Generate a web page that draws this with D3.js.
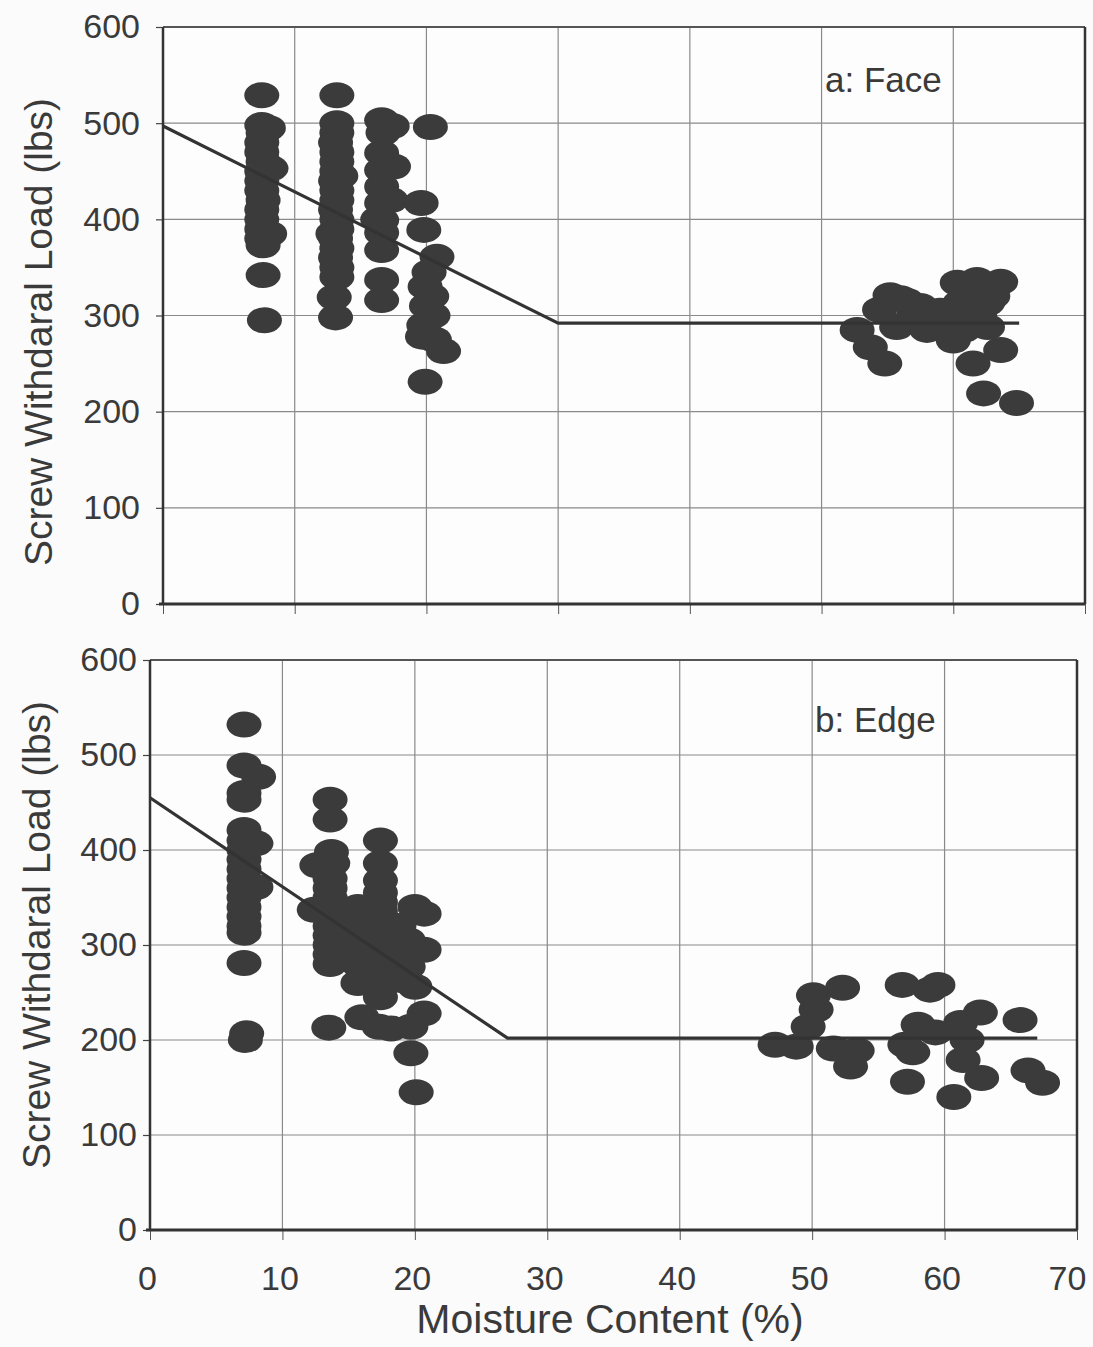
<!DOCTYPE html>
<html>
<head>
<meta charset="utf-8">
<script src="https://cdn.jsdelivr.net/npm/d3@7"></script>
<style>
  html, body { margin: 0; padding: 0; background: #fbfbfb; }
  svg { display: block; }
  text { font-family: "Liberation Sans", Arial, sans-serif; fill: #3a3a3a; }
</style>
</head>
<body>
<svg id="chart" width="1093" height="1347"></svg>
<script>
// ---------- data ----------
const xTicks = [0, 10, 20, 30, 40, 50, 60, 70];
const yTicks = [0, 100, 200, 300, 400, 500, 600];

// Face withdrawal: [moisture %, load lbs]
const facePoints = [
  // ~8% group
  [7.5,529],[7.5,498],[7.6,490],[7.5,480],[7.5,470],[7.6,460],[7.5,450],[7.5,440],[7.5,430],
  [7.6,420],[7.5,410],[7.5,400],[7.5,390],[7.5,380],[7.6,373],[7.6,342],[7.7,295],
  [8.2,453],[8.0,495],[8.1,385],
  // ~13% group
  [13.2,529],[13.2,500],[13.2,490],[13.1,480],[13.2,470],[13.2,460],[13.2,450],[13.1,440],
  [13.2,430],[13.2,420],[13.1,410],[13.2,400],[13.2,390],[13.1,380],[13.2,370],[13.1,360],
  [13.2,350],[13.2,340],[13.0,319],[13.1,298],[13.5,445],[12.9,385],
  // ~17% group
  [16.6,503],[16.7,490],[16.6,469],[16.6,451],[16.6,434],[16.6,417],[16.6,399],[16.6,386],
  [16.6,368],[16.6,337],[16.6,316],[17.4,497],[17.5,455],[17.3,420],[16.3,400],
  // ~20% group
  [20.3,496],[19.6,417],[19.8,389],[20.8,361],[20.2,345],[19.9,330],[20.4,320],[20.0,310],
  [20.5,300],[19.8,290],[19.7,278],[20.6,275],[21.3,263],[19.9,231],
  // green wood group
  [52.7,285],[53.7,267],[54.8,250],[55.2,321],[54.4,306],[55.7,288],[57.0,302],[58.0,285],
  [59.5,292],[60.0,274],[60.3,334],[61.8,337],[63.6,335],[60.5,313],[62.6,313],[62.6,288],
  [63.6,264],[61.5,250],[62.3,219],[64.8,209],[56.5,315],[58.5,300],[61.0,295],[62.0,300],
  [56.0,318],[57.5,310],[59.0,305],[61.5,320],[63.0,320],[60.8,285]
];

// Edge withdrawal: [moisture %, load lbs]
const edgePoints = [
  // ~7% group
  [7.1,532],[7.1,489],[8.2,477],[7.1,460],[7.1,453],[7.1,421],[7.1,410],[7.1,400],[7.1,390],
  [7.1,380],[7.1,370],[7.1,360],[7.1,350],[7.1,340],[7.1,330],[7.1,320],[7.1,313],
  [8.0,407],[8.0,361],[7.1,281],[7.3,207],[7.2,200],
  // ~14% group
  [13.6,453],[13.6,432],[13.7,398],[12.6,384],[13.8,386],[13.6,370],[13.6,360],[13.6,350],
  [13.6,340],[13.6,330],[13.6,320],[13.6,310],[13.6,300],[13.6,290],[13.6,280],[12.4,337],
  [13.5,213],
  // ~17% group
  [17.4,410],[17.4,386],[17.4,368],[17.4,355],[17.4,345],[17.4,335],[17.4,325],[17.4,315],
  [17.4,305],[17.4,295],[17.4,285],[17.4,275],[17.4,265],[17.4,255],[17.4,245],
  [15.7,340],[15.7,320],[15.7,300],[15.7,280],[15.7,260],[16.0,224],[17.3,214],[18.2,212],
  // ~20% group
  [20.0,340],[20.7,333],[20.7,295],[19.5,305],[19.5,277],[20.0,256],[19.0,263],[20.7,228],
  [19.7,214],[19.7,186],[20.1,145],[18.8,320],[18.8,290],
  // green wood group
  [47.2,195],[48.8,193],[49.7,214],[50.3,232],[50.1,247],[52.3,255],[51.6,191],[53.4,189],
  [52.9,172],[56.8,258],[58.9,253],[59.5,258],[58.0,216],[57.0,195],[57.6,187],[57.2,156],
  [59.3,208],[60.7,140],[61.2,218],[62.7,229],[61.7,200],[61.4,179],[62.8,160],[65.7,221],
  [66.3,168],[67.4,155]
];

const faceFit = [[0,497],[30,292],[65,292]];
const edgeFit = [[0,455],[27,202],[67,202]];

const panelLabels = ["a: Face", "b: Edge"];
const yTitle = "Screw Withdaral Load (lbs)";
const xTitle = "Moisture Content (%)";

// ---------- drawing ----------
const svg = d3.select("#chart");
const FONT = '"Liberation Sans", Arial, sans-serif';

const panels = [
  { pts: facePoints, fit: faceFit, label: panelLabels[0],
    left: 163, right: 1085, top: 27, bottom: 604, xLabels: false,
    labelPos: [825, 83], tickPad: 16, ytitleX: 38, ytitleY: 332 },
  { pts: edgePoints, fit: edgeFit, label: panelLabels[1],
    left: 150, right: 1077, top: 660, bottom: 1230, xLabels: true,
    labelPos: [815, 723], tickPad: 6, ytitleX: 36, ytitleY: 935 }
];

panels.forEach(p => {
  const x = d3.scaleLinear().domain([0, 70]).range([p.left, p.right]);
  const y = d3.scaleLinear().domain([0, 600]).range([p.bottom, p.top]);
  const g = svg.append("g");

  g.append("rect").attr("x", p.left).attr("y", p.top)
    .attr("width", p.right - p.left).attr("height", p.bottom - p.top)
    .attr("fill", "#fdfdfd");

  // grid
  g.append("g").selectAll("line").data(xTicks.slice(1, -1)).join("line")
    .attr("x1", d => x(d)).attr("x2", d => x(d))
    .attr("y1", p.top).attr("y2", p.bottom)
    .attr("stroke", "#8a8a8a").attr("stroke-width", 1.2);
  g.append("g").selectAll("line").data(yTicks.slice(1, -1)).join("line")
    .attr("y1", d => y(d)).attr("y2", d => y(d))
    .attr("x1", p.left).attr("x2", p.right)
    .attr("stroke", "#8a8a8a").attr("stroke-width", 1.2);

  // y axis
  const yAxis = d3.axisLeft(y).tickValues(yTicks).tickSize(7)
    .tickPadding(p.tickPad)
    .tickFormat(d3.format("d"));
  const ya = g.append("g").attr("transform", `translate(${p.left},0)`).call(yAxis);
  ya.select(".domain").remove();
  ya.selectAll("line").attr("stroke", "#444").attr("stroke-width", 1.2);
  ya.selectAll("text").style("font-size", "34px").style("fill", "#3a3a3a").style("font-family", FONT);

  // x axis
  const xAxis = d3.axisBottom(x).tickValues(xTicks).tickSize(10).tickPadding(26)
    .tickFormat(p.xLabels ? d3.format("d") : () => "");
  const xa = g.append("g").attr("transform", `translate(0,${p.bottom})`).call(xAxis);
  xa.select(".domain").remove();
  xa.selectAll("line").attr("stroke", "#555").attr("stroke-width", 1);
  xa.selectAll("text").style("font-size", "34px").style("fill", "#3a3a3a").style("font-family", FONT)
    .attr("dx", d => d === 70 ? -10 : -3);

  // frame
  g.append("line").attr("x1", p.left).attr("x2", p.right).attr("y1", p.top).attr("y2", p.top)
    .attr("stroke", "#555").attr("stroke-width", 1.8);
  g.append("line").attr("x1", p.right).attr("x2", p.right).attr("y1", p.top).attr("y2", p.bottom)
    .attr("stroke", "#333").attr("stroke-width", 2.5);
  g.append("line").attr("x1", p.left).attr("x2", p.left).attr("y1", p.top).attr("y2", p.bottom)
    .attr("stroke", "#333").attr("stroke-width", 2.5);
  g.append("line").attr("x1", p.left - 4).attr("x2", p.right).attr("y1", p.bottom).attr("y2", p.bottom)
    .attr("stroke", "#333").attr("stroke-width", 3);

  // points
  g.append("g").selectAll("ellipse").data(p.pts).join("ellipse")
    .attr("cx", d => x(d[0])).attr("cy", d => y(d[1]))
    .attr("rx", 17.5).attr("ry", 13)
    .attr("fill", "#3b3b3b");

  // fit line
  g.append("path").datum(p.fit)
    .attr("d", d3.line().x(d => x(d[0])).y(d => y(d[1])))
    .attr("fill", "none").attr("stroke", "#333").attr("stroke-width", 3.2);

  // panel label
  g.append("text").attr("x", p.labelPos[0]).attr("y", p.labelPos[1])
    .attr("dominant-baseline", "middle")
    .style("font-size", "35px").text(p.label);

  // y title
  g.append("text")
    .attr("transform", `translate(${p.ytitleX + 14},${p.ytitleY}) rotate(-90)`)
    .attr("text-anchor", "middle")
    .style("font-size", "39px").text(yTitle);
});

// x title
svg.append("text").attr("x", 610).attr("y", 1333)
  .attr("text-anchor", "middle").style("font-size", "41px").text(xTitle);
</script>
</body>
</html>
